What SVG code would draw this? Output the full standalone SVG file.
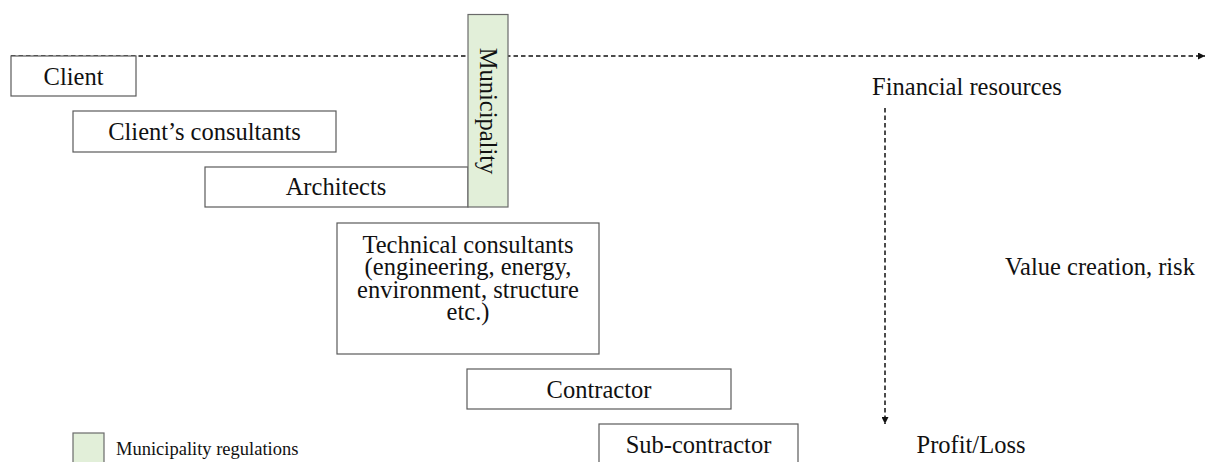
<svg xmlns="http://www.w3.org/2000/svg" width="1206" height="462" viewBox="0 0 1206 462">
  <style>
    .box { fill: #ffffff; stroke: #5a5a5a; stroke-width: 1.2; }
    .muni { fill: #e2efd9; stroke: #6a6a6a; stroke-width: 1.2; }
    .lbl { font-family: "Liberation Serif", "Times New Roman", serif; font-size: 24.5px; fill: #111111; text-anchor: middle; }
    .small { font-family: "Liberation Serif", "Times New Roman", serif; font-size: 18.5px; fill: #111111; }
    .flow { fill: none; stroke: #111111; stroke-width: 1.5; stroke-dasharray: 4.5 3; }
  </style>
  <defs>
    <marker id="tip" viewBox="0 0 10 10" refX="10" refY="5" markerWidth="7" markerHeight="7" markerUnits="userSpaceOnUse" orient="auto">
      <path d="M0,0 L10,5 L0,10 Z" fill="#111111"/>
    </marker>
  </defs>

  <!-- connectors: timeline and resource flow -->
  <g id="connectors">
    <line class="flow" x1="11" y1="56" x2="1205" y2="56" marker-end="url(#tip)"/>
    <line class="flow" x1="885" y1="108" x2="885" y2="424" marker-end="url(#tip)"/>
  </g>

  <g id="client">
    <rect class="box" x="11" y="56" width="125" height="40"/>
    <text class="lbl" x="73.5" y="85">Client</text>
  </g>

  <g id="clients-consultants">
    <rect class="box" x="73" y="111" width="263" height="41"/>
    <text class="lbl" x="204.5" y="140">Client’s consultants</text>
  </g>

  <g id="architects">
    <rect class="box" x="205" y="167" width="263" height="40"/>
    <text class="lbl" x="336" y="195">Architects</text>
  </g>

  <g id="municipality">
    <rect class="muni" x="468" y="14.5" width="40" height="192.5"/>
    <text class="lbl" transform="translate(488 111) rotate(90)" y="8">Municipality</text>
  </g>

  <g id="technical-consultants">
    <rect class="box" x="337" y="223" width="262" height="131"/>
    <text class="lbl" x="468" y="252.5"><tspan x="468">Technical consultants</tspan><tspan x="468" dy="22.5">(engineering, energy,</tspan><tspan x="468" dy="22.5">environment, structure</tspan><tspan x="468" dy="22.5">etc.)</tspan></text>
  </g>

  <g id="contractor">
    <rect class="box" x="467" y="369" width="264" height="40"/>
    <text class="lbl" x="599" y="398">Contractor</text>
  </g>

  <g id="sub-contractor">
    <rect class="box" x="599" y="424" width="199" height="50"/>
    <text class="lbl" x="698.5" y="453">Sub-contractor</text>
  </g>

  <g id="financial-resources">
    <text class="lbl" x="967" y="95">Financial resources</text>
  </g>

  <g id="value-creation">
    <text class="lbl" x="1100" y="275">Value creation, risk</text>
  </g>

  <g id="profit-loss">
    <text class="lbl" x="971" y="453">Profit/Loss</text>
  </g>

  <g id="legend">
    <rect class="muni" x="73" y="433" width="31" height="40"/>
    <text class="small" x="116" y="455">Municipality regulations</text>
  </g>
</svg>
